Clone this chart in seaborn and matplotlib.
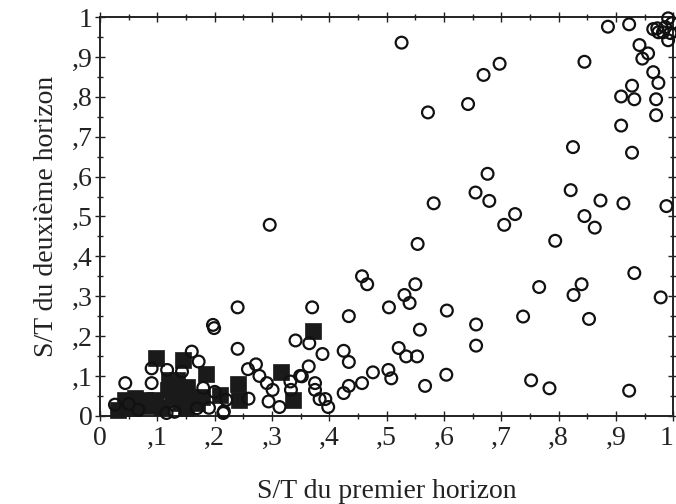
import matplotlib
matplotlib.use("Agg")
import matplotlib.pyplot as plt
import seaborn as sns
import pandas as pd
from matplotlib.ticker import MultipleLocator, FuncFormatter

# open circles: (S/T first horizon, S/T second horizon)
circle_x = [0.026, 0.044, 0.090, 0.090, 0.117, 0.143, 0.160, 0.172, 0.067, 0.116,
            0.169, 0.215, 0.050, 0.130, 0.180, 0.200, 0.220, 0.190,
            0.197, 0.199, 0.240, 0.240, 0.258, 0.272, 0.278, 0.291, 0.301, 0.294,
            0.313, 0.259, 0.216, 0.332, 0.333, 0.349, 0.364, 0.341, 0.365, 0.370,
            0.375, 0.375, 0.383, 0.393, 0.398, 0.388, 0.425, 0.434, 0.434, 0.434,
            0.425, 0.457, 0.476, 0.503, 0.508, 0.521, 0.534, 0.553, 0.558, 0.567,
            0.604, 0.352, 0.296,
            0.457, 0.466, 0.550, 0.531, 0.540, 0.504, 0.605, 0.554, 0.582, 0.526,
            0.669, 0.642, 0.572, 0.676, 0.655, 0.679, 0.697, 0.705, 0.724, 0.656,
            0.656, 0.738, 0.752, 0.784, 0.766, 0.794, 0.821, 0.825, 0.826, 0.840,
            0.845, 0.845, 0.853, 0.863, 0.873, 0.886, 0.909, 0.909, 0.913, 0.923,
            0.923, 0.928, 0.928, 0.932, 0.932, 0.941, 0.946, 0.956, 0.965, 0.970,
            0.970, 0.974, 0.978, 0.988,
            0.965, 0.974, 0.986, 0.991, 0.998, 0.995, 0.991, 0.982, 0.972]
circle_y = [0.028, 0.082, 0.119, 0.082, 0.115, 0.111, 0.161, 0.136, 0.015, 0.007,
            0.019, 0.007, 0.030, 0.010, 0.070, 0.060, 0.040, 0.020,
            0.228, 0.220, 0.168, 0.272, 0.117, 0.129, 0.100, 0.082, 0.065, 0.036,
            0.022, 0.043, 0.011, 0.086, 0.065, 0.100, 0.124, 0.189, 0.182, 0.272,
            0.082, 0.065, 0.042, 0.042, 0.022, 0.155, 0.163, 0.135, 0.250, 0.075,
            0.057, 0.082, 0.109, 0.115, 0.094, 0.170, 0.149, 0.149, 0.216, 0.075,
            0.103, 0.099, 0.479,
            0.350, 0.330, 0.330, 0.303, 0.283, 0.272, 0.264, 0.431, 0.533, 0.936,
            0.855, 0.782, 0.761, 0.607, 0.560, 0.539, 0.883, 0.479, 0.506, 0.229,
            0.176, 0.249, 0.089, 0.069, 0.323, 0.439, 0.566, 0.674, 0.303, 0.330,
            0.501, 0.888, 0.243, 0.472, 0.540, 0.976, 0.801, 0.728, 0.533, 0.982,
            0.063, 0.828, 0.660, 0.794, 0.358, 0.930, 0.896, 0.909, 0.862, 0.794,
            0.754, 0.835, 0.297, 0.526,
            0.970, 0.962, 0.975, 0.997, 0.985, 0.960, 0.942, 0.962, 0.972]

# filled squares
square_x = [0.032, 0.044, 0.061, 0.079, 0.096, 0.108, 0.097, 0.120, 0.135, 0.119,
            0.128, 0.140, 0.134, 0.144, 0.151, 0.157, 0.169, 0.185, 0.177, 0.209,
            0.240, 0.243, 0.316, 0.337, 0.372, 0.060, 0.085, 0.150]
square_y = [0.015, 0.040, 0.044, 0.040, 0.040, 0.023, 0.145, 0.090, 0.090, 0.065,
            0.048, 0.032, 0.073, 0.140, 0.073, 0.048, 0.032, 0.105, 0.048, 0.053,
            0.080, 0.040, 0.111, 0.040, 0.213, 0.020, 0.025, 0.020]

x_label = "S/T du premier horizon"
y_label = "S/T du deuxième horizon"

sns.set_style("white")
plt.rcParams['font.family'] = ['Liberation Serif', 'DejaVu Serif']

fig = plt.figure(figsize=(6.76, 5.04), dpi=100)
ax = fig.add_axes([0.148, 0.175, 0.848, 0.791])

circles = pd.DataFrame({"x": circle_x, "y": circle_y})
squares = pd.DataFrame({"x": square_x, "y": square_y})

sns.scatterplot(data=squares, x="x", y="y", ax=ax, marker="s", s=125,
                color="#1a1a1a", edgecolor="#1a1a1a", linewidth=0.5,
                clip_on=False, zorder=3)
sns.scatterplot(data=circles, x="x", y="y", ax=ax, marker="o", s=72,
                facecolor="none", edgecolor="#111111", linewidth=1.6,
                clip_on=False, zorder=4)

ax.set_xlim(0, 1)
ax.set_ylim(0, 1)

def fmt(v, pos):
    if abs(v) < 1e-9:
        return "0"
    if abs(v - 1) < 1e-9:
        return "1"
    return ",%d" % round(v * 10)

for axis in (ax.xaxis, ax.yaxis):
    axis.set_major_locator(MultipleLocator(0.1))
    axis.set_minor_locator(MultipleLocator(0.05))
    axis.set_major_formatter(FuncFormatter(fmt))

ax.tick_params(which="both", direction="inout", top=True, right=True,
               bottom=True, left=True, color="#222222", width=1.0,
               labelsize=20, labelcolor="#222222")
ax.tick_params(which="major", length=7)
ax.tick_params(which="minor", length=4)
ax.tick_params(axis="x", pad=4)
ax.tick_params(axis="y", pad=2)

for sp in ax.spines.values():
    sp.set_color("#222222")
    sp.set_linewidth(1.4)

ax.set_xlabel(x_label, fontsize=20, color="#222222", labelpad=20)
ax.set_ylabel(y_label, fontsize=20, color="#222222", labelpad=9)

fig.canvas.draw()
for tick in ax.xaxis.get_major_ticks():
    if abs(tick.get_loc() - 1.0) < 1e-6:
        tick.label1.set_horizontalalignment("right")

fig.savefig("out.png", dpi=100)
